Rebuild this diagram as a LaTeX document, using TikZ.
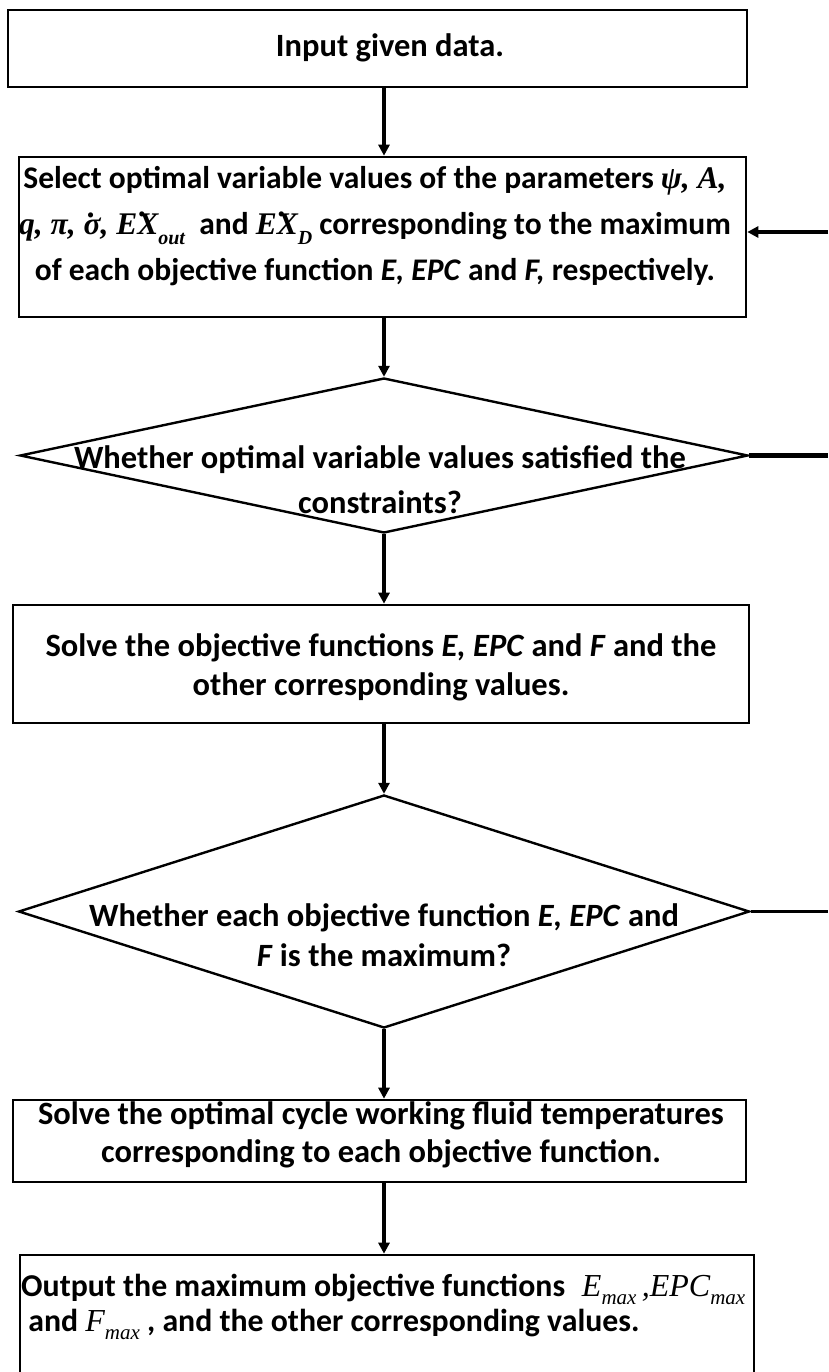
\RequirePackage{fix-cm}
\documentclass[tikz,border=0pt]{standalone}
\usepackage{fontspec}
\setmainfont{Carlito}
\newfontfamily\mf{Liberation Serif}
\usetikzlibrary{shapes.geometric,arrows.meta}
\newcommand{\dotacc}[3]{\leavevmode\setbox0=\hbox{#3}\rlap{\hbox to\wd0{\hss\kern#1\raisebox{#2}{.}\hss}}\box0}
\newcommand{\lowsub}[1]{\raisebox{-0.3em}{\fontsize{20}{20}\selectfont #1}}
\newcommand{\bigsub}[1]{\raisebox{-0.25em}{\fontsize{21}{21}\selectfont #1}}
\begin{document}
\begin{tikzpicture}[x=1pt,y=-1pt,
  box/.style={draw, line width=2.6pt, rectangle, inner sep=0pt},
  decision/.style={draw, diamond, line width=2.4pt, inner sep=0pt},
  txt/.style={font=\bfseries\fontsize{32.5}{#1}\selectfont, align=center, inner sep=0pt},
  txt/.default=40,
  arr/.style={line width=3.4pt, -{Triangle[length=11pt,width=11pt]}},
  feed/.style={line width=#1},
  feed/.default=2.6pt]
\clip (0,0) rectangle (828,1372);
\fill[white] (0,0) rectangle (828,1372);
\coordinate (ax) at (384,0);
% boxes and decisions
\node[box, minimum width=739pt, minimum height=77pt] (b1) at (377.5,48.5) {};
\node[txt] (t1) at (390,48) {Input given data.};

\node[box, minimum width=727pt, minimum height=160pt] (b2) at (382.5,237) {};
\node[txt=46, font=\bfseries\fontsize{31.5}{46}\selectfont] (t2) at (375,226.5) {Select optimal variable values of the parameters {\mf\itshape ψ, A,}\\
{\mf\itshape q, π, \dotacc{-0.02em}{0.55em}{σ}, E\dotacc{-0.3em}{0.6em}{X}\lowsub{out}}\ \ and {\mf\itshape E\dotacc{-0.3em}{0.6em}{X}\lowsub{D}} corresponding to the maximum\\
of each objective function \textit{E, EPC} and \textit{F,} respectively.};

\node[decision, minimum width=728pt, minimum height=155pt] (d1) at (384,455.5) {};
\node[txt=45] (t3) at (380,479.5) {Whether optimal variable values satisfied the\\ constraints?};

\node[box, minimum width=736pt, minimum height=118pt] (b3) at (381,664) {};
\node[txt=39] (t4) at (381,667.5) {Solve the objective functions \textit{E, EPC} and \textit{F} and the\\ other corresponding values.};

\node[decision, minimum width=731pt, minimum height=233pt] (d2) at (384,911.5) {};
\node[txt=40] (t5) at (384,935) {Whether each objective function \textit{E, EPC} and\\ \textit{F} is the maximum?};

\node[box, minimum width=733pt, minimum height=82pt] (b4) at (379.5,1141) {};
\node[txt=38] (t6) at (381,1135) {Solve the optimal cycle working fluid temperatures\\ corresponding to each objective function.};

\node[box, minimum width=734pt, minimum height=145pt] (b5) at (387,1327.5) {};
\node[txt=35, font=\bfseries\fontsize{31.8}{35}\selectfont, align=left, anchor=west] (t7) at (21,1307) {Output the maximum objective functions\hspace{0.3em} {\mf\mdseries\itshape\fontsize{32}{35}\selectfont E\bigsub{max}\,,EPC\bigsub{max}}\\
\ and {\mf\mdseries\itshape\fontsize{32}{35}\selectfont F\bigsub{max}} , and the other corresponding values.};

% vertical flow
\draw[arr] (b1.south -| ax) -- (b2.north -| ax);
\draw[arr] (b2.south -| ax) -- (d1.north);
\draw[arr] (d1.south) -- (b3.north -| ax);
\draw[arr] (b3.south -| ax) -- (d2.north);
\draw[arr] (d2.south) -- (b4.north -| ax);
\draw[arr] (b4.south -| ax) -- (b5.north -| ax);

% right-side connectors
\coordinate (r1) at (828,232);
\draw[arr] (r1) -- (r1 -| b2.east);
\coordinate (r2) at (828,457);
\draw[feed=5pt] (d1.east) -- (d1.east -| r2);
\coordinate (r3) at (828,911);
\draw[feed] (d2.east) -- (d2.east -| r3);
\end{tikzpicture}
\end{document}
